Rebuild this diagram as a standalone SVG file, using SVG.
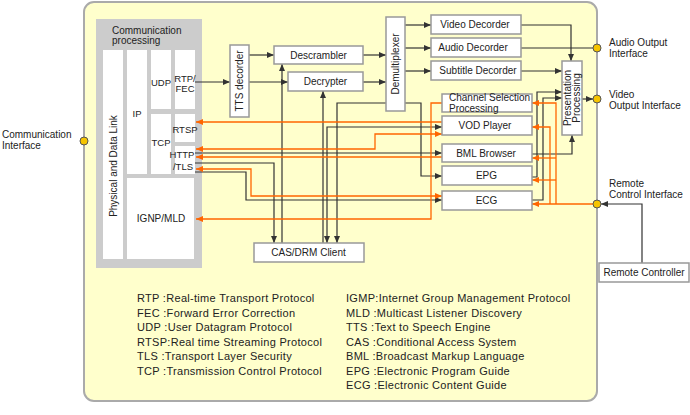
<svg xmlns="http://www.w3.org/2000/svg" width="690" height="415" viewBox="0 0 690 415">
<defs>
<style>
text{font-family:"Liberation Sans",Arial,sans-serif;font-size:10px;fill:#222}
.s{font-size:9.5px}
.lg{font-size:11px;letter-spacing:0.3px}
.b{fill:#fff;stroke:#999;stroke-width:1.5}
.w{fill:#fff}
.d{fill:none;stroke:#333;stroke-width:1.2}
.o{fill:none;stroke:#FF6600;stroke-width:1.3}
.ci{fill:#F5C400;stroke:#555;stroke-width:1}
</style>
<marker id="ad" markerWidth="7" markerHeight="6" refX="7" refY="3" orient="auto-start-reverse" markerUnits="userSpaceOnUse"><path d="M0,0 L7,3 L0,6 z" fill="#333"/></marker>
<marker id="ao" markerWidth="7" markerHeight="6" refX="7" refY="3" orient="auto-start-reverse" markerUnits="userSpaceOnUse"><path d="M0,0 L7,3 L0,6 z" fill="#FF6600"/></marker>
</defs>
<rect x="0" y="0" width="690" height="415" fill="#fff"/>
<rect id="panel" x="84" y="2" width="513" height="399" rx="10" fill="#FFFFCC" stroke="#AAA" stroke-width="2"/>

<g id="comm">
<rect x="96" y="19" width="106" height="249" fill="#CCC"/>
<text x="112" y="34">Communication</text>
<text x="112" y="44">processing</text>
</g>
<g id="phy"><rect class="w" x="103" y="50" width="20" height="209"/><text transform="translate(116.5,166) rotate(-90)" text-anchor="middle">Physical and Data Link</text></g>
<g id="ip"><rect class="w" x="127" y="50" width="20" height="124"/><text class="s" x="137" y="117" text-anchor="middle">IP</text></g>
<g id="udp"><rect class="w" x="151" y="50" width="20" height="59"/><text class="s" x="161" y="86" text-anchor="middle">UDP</text></g>
<g id="rtpfec"><rect class="w" x="175" y="50" width="20" height="59"/><text class="s" x="185" y="82" text-anchor="middle">RTP/</text><text class="s" x="185" y="91.5" text-anchor="middle">FEC</text></g>
<g id="tcp"><rect class="w" x="151" y="114" width="20" height="60"/><text class="s" x="161" y="146" text-anchor="middle">TCP</text></g>
<g id="rtsp"><rect class="w" x="175" y="114" width="20" height="28"/><text class="s" x="185" y="133" text-anchor="middle">RTSP</text></g>
<g id="httptls"><rect class="w" x="175" y="146" width="20" height="28"/><text class="s" x="182" y="158" text-anchor="middle">HTTP</text><text class="s" x="183" y="170" text-anchor="middle">/TLS</text></g>
<g id="igmp"><rect class="w" x="127" y="178" width="67" height="81"/><text x="161" y="222" text-anchor="middle">IGNP/MLD</text></g>

<g id="connectors">
<path class="d" d="M195,82 H230" marker-end="url(#ad)"/>
<path class="d" d="M249,55 H274" marker-end="url(#ad)"/>
<path class="d" d="M249,82 H288" marker-end="url(#ad)"/>
<path class="d" d="M363,55 H386" marker-end="url(#ad)"/>
<path class="d" d="M363,82 H386" marker-end="url(#ad)"/>
<path class="d" d="M405,25 H431" marker-end="url(#ad)"/>
<path class="d" d="M405,48 H431" marker-end="url(#ad)"/>
<path class="d" d="M405,71 H431" marker-end="url(#ad)"/>
<path class="d" d="M521,25 H571 V61" marker-end="url(#ad)"/>
<path class="d" d="M521,48 H593"/>
<path class="d" d="M521,71 H562" marker-end="url(#ad)"/>
<path class="d" d="M582,99 H593" marker-end="url(#ad)"/>
<path class="d" d="M282,243 V64" marker-end="url(#ad)"/>
<path class="d" d="M323,243 V91" marker-end="url(#ad)"/>
<path class="d" d="M195,163 H274 V243" marker-end="url(#ad)"/>
<path class="d" d="M386,103 H337 V243" marker-end="url(#ad)"/>
<path class="d" d="M405,103 H421 V176 H442" marker-end="url(#ad)"/>
<path class="d" d="M327,243 V127 H442" marker-start="url(#ad)" marker-end="url(#ad)"/>
<path class="d" d="M195,153 H442" marker-end="url(#ad)"/>
<path class="d" d="M195,172 H246 V200 H442" marker-end="url(#ad)"/>
<path class="d" d="M532,177 H537 V92 H562" marker-end="url(#ad)"/>
<path class="d" d="M532,200 H543 V98 H562" marker-end="url(#ad)"/>
<path class="d" d="M532,154 H572 V135" marker-end="url(#ad)"/>
<path class="d" d="M642,263 V204 H601" marker-end="url(#ad)"/>

<path class="o" d="M442,122 H196" marker-end="url(#ao)"/>
<path class="o" d="M196,149 H375 V134 H442" marker-start="url(#ao)" marker-end="url(#ao)"/>
<path class="o" d="M442,157 H196" marker-end="url(#ao)"/>
<path class="o" d="M196,169 H251 V196 H442" marker-start="url(#ao)" marker-end="url(#ao)"/>
<path class="o" d="M442,103 H431 V219 H196" marker-end="url(#ao)"/>
<path class="o" d="M593,204 H532" marker-end="url(#ao)"/>
<path class="o" d="M556,204 V103 H532" marker-end="url(#ao)"/>
<path class="o" d="M550,204 V127 H532" marker-end="url(#ao)"/>
<path class="o" d="M556,158 H532" marker-end="url(#ao)"/>
<path class="o" d="M556,180 H532" marker-end="url(#ao)"/>
</g>

<g id="tts"><rect class="b" x="230" y="45" width="19" height="72"/><text transform="translate(239.5,81) rotate(-90)" y="3.5" text-anchor="middle">TTS decorder</text></g>
<g id="descrambler"><rect class="b" x="274" y="46" width="89" height="18"/><text x="318.5" y="58.5" text-anchor="middle">Descrambler</text></g>
<g id="decrypter"><rect class="b" x="288" y="72" width="75" height="19"/><text x="325.5" y="85" text-anchor="middle">Decrypter</text></g>
<g id="demux"><rect class="b" x="386" y="17" width="19" height="94"/><text transform="translate(395.5,64) rotate(-90)" y="3.5" text-anchor="middle">Demultiplexer</text></g>
<g id="video"><rect class="b" x="431" y="15" width="90" height="19"/><text x="475" y="28" text-anchor="middle">Video Decorder</text></g>
<g id="audio"><rect class="b" x="431" y="38" width="90" height="19"/><text x="473" y="51" text-anchor="middle">Audio Decorder</text></g>
<g id="subtitle"><rect class="b" x="431" y="61" width="90" height="19"/><text x="478" y="74" text-anchor="middle">Subtitle Decorder</text></g>
<g id="presentation"><rect class="b" x="562" y="61" width="20" height="74"/><text transform="translate(572,98) rotate(-90)" y="-1" text-anchor="middle" font-size="9.5">Presentation</text><text transform="translate(572,98) rotate(-90)" y="8" text-anchor="middle" font-size="9.5">Processing</text></g>
<g id="csp"><rect class="b" x="442" y="94" width="90" height="18"/><text x="449" y="101" font-size="9">Channel Selection</text><text x="449" y="111.5" font-size="9">Processing</text></g>
<g id="vod"><rect class="b" x="442" y="116" width="90" height="19"/><text x="485" y="129" text-anchor="middle">VOD Player</text></g>
<g id="bml"><rect class="b" x="442" y="144" width="90" height="18"/><text x="486" y="156.5" text-anchor="middle">BML Browser</text></g>
<g id="epg"><rect class="b" x="442" y="166" width="90" height="19"/><text x="486.5" y="179" text-anchor="middle">EPG</text></g>
<g id="ecg"><rect class="b" x="442" y="191" width="90" height="19"/><text x="486.5" y="204" text-anchor="middle">ECG</text></g>
<g id="cas"><rect class="b" x="254" y="243" width="110" height="19"/><text x="308.5" y="256" text-anchor="middle">CAS/DRM Client</text></g>
<g id="remote"><rect class="b" x="599" y="263" width="90" height="19"/><text x="644" y="276" text-anchor="middle">Remote Controller</text></g>

<g id="if-comm"><circle class="ci" cx="84" cy="141" r="4"/><text x="2" y="137.5">Communication</text><text x="2" y="148.5">Interface</text></g>
<g id="if-audio"><circle class="ci" cx="597" cy="48" r="4"/><text x="609" y="46">Audio Output</text><text x="609" y="57">Interface</text></g>
<g id="if-video"><circle class="ci" cx="597" cy="99" r="4"/><text x="609" y="97.5">Video</text><text x="609" y="109">Output Interface</text></g>
<g id="if-remote"><circle class="ci" cx="597" cy="204" r="4"/><text x="609" y="186.5">Remote</text><text x="609" y="197.5">Control Interface</text></g>

<g id="legend">
<text class="lg" x="137" y="302">RTP :Real-time Transport Protocol</text>
<text class="lg" x="137" y="316.5">FEC :Forward Error Correction</text>
<text class="lg" x="137" y="331">UDP :User Datagram Protocol</text>
<text class="lg" x="137" y="345.5">RTSP:Real time Streaming Protocol</text>
<text class="lg" x="137" y="360">TLS :Transport Layer Security</text>
<text class="lg" x="137" y="374.5">TCP :Transmission Control Protocol</text>
<text class="lg" x="346" y="302">IGMP:Internet Group Management Protocol</text>
<text class="lg" x="346" y="316.5">MLD :Multicast Listener Discovery</text>
<text class="lg" x="346" y="331">TTS :Text to Speech Engine</text>
<text class="lg" x="346" y="345.5">CAS :Conditional Access System</text>
<text class="lg" x="346" y="360">BML :Broadcast Markup Language</text>
<text class="lg" x="346" y="374.5">EPG :Electronic Program Guide</text>
<text class="lg" x="346" y="389">ECG :Electronic Content Guide</text>
</g>
</svg>
